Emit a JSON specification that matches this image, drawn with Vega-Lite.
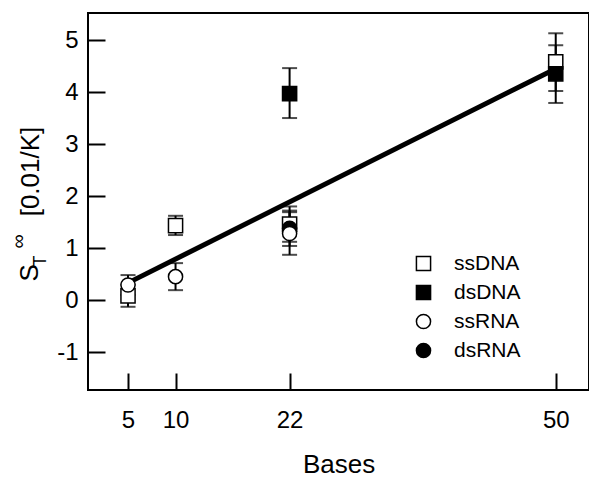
{
  "$schema": "https://vega.github.io/schema/vega-lite/v6.json",
  "width": 501,
  "height": 377,
  "autosize": "none",
  "padding": {"left": 88, "top": 13, "right": 0, "bottom": 87},
  "background": "white",
  "config": {
    "font": "Liberation Sans",
    "view": {"stroke": "black", "strokeWidth": 2},
    "axis": {
      "domain": false, "grid": false,
      "tickColor": "black", "tickWidth": 2, "tickSize": -17,
      "labelFont": "Liberation Sans", "labelFontSize": 24, "labelColor": "black",
      "titleFont": "Liberation Sans", "titleFontSize": 26, "titleFontWeight": "normal", "titleColor": "black"
    },
    "axisX": {"labelPadding": 35, "titleBaseline": "alphabetic", "titleY": 82},
    "axisY": {"labelPadding": 27},
    "legend": {
      "orient": "none", "legendX": 325, "legendY": 240, "padding": 0,
      "labelFont": "Liberation Sans", "labelFontSize": 21, "labelColor": "black",
      "labelOffset": 20, "rowPadding": 7, "symbolSize": 200,
      "symbolStrokeWidth": 1.5
    }
  },
  "datasets": {
    "pts": [
      {"bases": 5, "st": 0.08, "lo": -0.13, "hi": 0.30, "type": "ssDNA"},
      {"bases": 10, "st": 1.43, "lo": 1.25, "hi": 1.62, "type": "ssDNA"},
      {"bases": 22, "st": 1.46, "lo": 1.12, "hi": 1.80, "type": "ssDNA"},
      {"bases": 50, "st": 4.58, "lo": 4.02, "hi": 5.13, "type": "ssDNA"},
      {"bases": 22, "st": 3.97, "lo": 3.50, "hi": 4.46, "type": "dsDNA"},
      {"bases": 50, "st": 4.35, "lo": 3.79, "hi": 4.90, "type": "dsDNA"},
      {"bases": 22, "st": 1.38, "lo": 1.04, "hi": 1.72, "type": "dsRNA"},
      {"bases": 5, "st": 0.29, "lo": 0.10, "hi": 0.48, "type": "ssRNA"},
      {"bases": 10, "st": 0.45, "lo": 0.19, "hi": 0.71, "type": "ssRNA"},
      {"bases": 22, "st": 1.28, "lo": 0.87, "hi": 1.69, "type": "ssRNA"}
    ],
    "fit": [
      {"bases": 5, "st": 0.33},
      {"bases": 50, "st": 4.45}
    ]
  },
  "layer": [
    {
      "data": {"name": "pts"},
      "mark": {"type": "errorbar", "thickness": 2, "ticks": {"size": 15}},
      "encoding": {
        "x": {"field": "bases", "type": "quantitative", "scale": {"domain": [0.79, 53.5], "nice": false, "zero": false}, "axis": {"values": [5, 10, 22, 50], "title": "Bases"}},
        "y": {"field": "lo", "type": "quantitative", "scale": {"domain": [-1.73, 5.52], "nice": false, "zero": false}, "axis": {"values": [-1, 0, 1, 2, 3, 4, 5], "title": null, "orient": "left", "labelExpr": "'' + datum.value"}},
        "y2": {"field": "hi"},
        "color": {"value": "black"}
      }
    },
    {
      "data": {"name": "fit"},
      "mark": {"type": "line", "color": "black", "strokeWidth": 5},
      "encoding": {
        "x": {"field": "bases", "type": "quantitative", "scale": {"domain": [0.79, 53.5], "nice": false, "zero": false}, "axis": {"values": [5, 10, 22, 50], "title": "Bases"}},
        "y": {"field": "st", "type": "quantitative", "scale": {"domain": [-1.73, 5.52], "nice": false, "zero": false}, "axis": null}
      }
    },
    {
      "data": {"name": "pts"},
      "mark": {"type": "point", "filled": true, "strokeWidth": 1.5, "size": 200, "opacity": 1},
      "encoding": {
        "x": {"field": "bases", "type": "quantitative", "scale": {"domain": [0.79, 53.5], "nice": false, "zero": false}, "axis": {"values": [5, 10, 22, 50], "title": "Bases"}},
        "y": {"field": "st", "type": "quantitative", "scale": {"domain": [-1.73, 5.52], "nice": false, "zero": false}, "axis": null},
        "shape": {"field": "type", "type": "nominal", "scale": {"domain": ["ssDNA", "dsDNA", "ssRNA", "dsRNA"], "range": ["square", "square", "circle", "circle"]}, "legend": {"title": null}},
        "fill": {"field": "type", "type": "nominal", "scale": {"domain": ["ssDNA", "dsDNA", "ssRNA", "dsRNA"], "range": ["white", "black", "white", "black"]}, "legend": {"title": null}},
        "stroke": {"field": "type", "type": "nominal", "scale": {"domain": ["ssDNA", "dsDNA", "ssRNA", "dsRNA"], "range": ["black", "black", "black", "black"]}, "legend": {"title": null}}
      }
    },
    {
      "data": {"name": "fit"},
      "mark": {"type": "point", "opacity": 0},
      "encoding": {
        "x": {"field": "bases", "type": "quantitative", "scale": {"domain": [0.79, 53.5], "nice": false, "zero": false}, "axis": {"values": [5, 10, 22, 50], "title": "Bases"}},
        "y": {"field": "st", "type": "quantitative", "scale": {"domain": [-1.73, 5.52], "nice": false, "zero": false}, "axis": {"orient": "left", "labels": false, "ticks": false, "title": "S", "titleColor": "black", "titleFontSize": 26, "titleAngle": -90, "titleAlign": "left", "titleBaseline": "alphabetic", "titleX": -51, "titleY": 268}}
      }
    },
    {
      "data": {"name": "fit"},
      "mark": {"type": "point", "opacity": 0},
      "encoding": {
        "x": {"field": "bases", "type": "quantitative", "scale": {"domain": [0.79, 53.5], "nice": false, "zero": false}, "axis": {"values": [5, 10, 22, 50], "title": "Bases"}},
        "y": {"field": "st", "type": "quantitative", "scale": {"domain": [-1.73, 5.52], "nice": false, "zero": false}, "axis": {"orient": "left", "labels": false, "ticks": false, "title": "T", "titleColor": "black", "titleFontSize": 18, "titleAngle": -90, "titleAlign": "left", "titleBaseline": "alphabetic", "titleX": -43, "titleY": 253}}
      }
    },
    {
      "data": {"name": "fit"},
      "mark": {"type": "point", "opacity": 0},
      "encoding": {
        "x": {"field": "bases", "type": "quantitative", "scale": {"domain": [0.79, 53.5], "nice": false, "zero": false}, "axis": {"values": [5, 10, 22, 50], "title": "Bases"}},
        "y": {"field": "st", "type": "quantitative", "scale": {"domain": [-1.73, 5.52], "nice": false, "zero": false}, "axis": {"orient": "left", "labels": false, "ticks": false, "title": "∞", "titleColor": "black", "titleFontSize": 20, "titleAngle": -90, "titleAlign": "left", "titleBaseline": "alphabetic", "titleX": -64, "titleY": 235}}
      }
    },
    {
      "data": {"name": "fit"},
      "mark": {"type": "point", "opacity": 0},
      "encoding": {
        "x": {"field": "bases", "type": "quantitative", "scale": {"domain": [0.79, 53.5], "nice": false, "zero": false}, "axis": {"values": [5, 10, 22, 50], "title": "Bases"}},
        "y": {"field": "st", "type": "quantitative", "scale": {"domain": [-1.73, 5.52], "nice": false, "zero": false}, "axis": {"orient": "left", "labels": false, "ticks": false, "title": "[0.01/K]", "titleColor": "black", "titleFontSize": 26, "titleAngle": -90, "titleAlign": "center", "titleBaseline": "alphabetic", "titleX": -50, "titleY": 158}}
      }
    }
  ],
  "resolve": {"axis": {"y": "independent"}}
}
